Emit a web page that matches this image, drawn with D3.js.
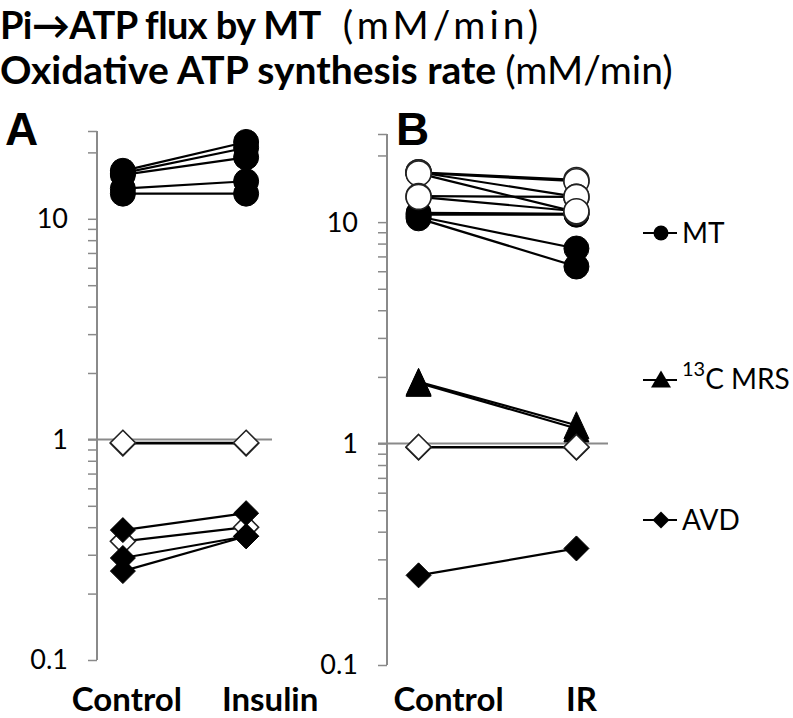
<!DOCTYPE html>
<html>
<head>
<meta charset="utf-8">
<script src="https://cdn.jsdelivr.net/npm/d3@7"></script>
<style>
  html, body { margin: 0; padding: 0; background: #fff; }
  svg { display: block; }
  text { font-family: Lato, "Open Sans", sans-serif; fill: #000; }
</style>
</head>
<body>
<svg id="chart" width="793" height="718"></svg>
<script>
// ---------------- DATA ----------------
const titleLine1Bold = "Pi\u2192ATP flux by MT";
const titleLine1Unit = "(mM/min)";
const titleLine2Bold = "Oxidative ATP synthesis rate";
const titleLine2Unit = "(mM/min)";

const categoriesA = ["Control", "Insulin"];
const categoriesB = ["Control", "IR"];

const yMajorTicks = [0.1, 1, 10];
const yMajorLabels = ["0.1", "1", "10"];
const yMinorTicks = [0.2, 0.3, 0.4, 0.5, 0.6, 0.7, 0.8, 0.9, 2, 3, 4, 5, 6, 7, 8, 9, 20, 25];
const yDomain = [0.1, 25];

// Panel A (Control -> Insulin)
const aMTFilled   = [[16.5, 22.3], [16.1, 21.0], [15.8, 19.0], [13.7, 14.8], [13.0, 13.0]];
const aRefOpen    = [[0.96, 0.96], [0.965, 0.965]];
const aAVDOpen    = [[0.345, 0.40]];
const aAVDFilled  = [[0.388, 0.463], [0.29, 0.364], [0.253, 0.364]];

// Panel B (Control -> IR)
const bMTFilled   = [[11.0, 10.9], [10.8, 10.8], [10.6, 7.6], [10.4, 6.3]];
const bMTOpen     = [[16.8, 15.5], [16.7, 15.3], [16.8, 13.0], [16.6, 11.1], [13.1, 13.0], [13.0, 11.2]];
const bMRS        = [[1.90, 1.21], [1.88, 1.17]];
const bRefOpen    = [[0.96, 0.96], [0.965, 0.965]];
const bAVDFilled  = [[0.254, 0.336]];

const legendItems = ["MT", "13C MRS", "AVD"];

// ---------------- DRAW ----------------
const svg = d3.select("#chart");
const AXIS = "#8a8a8a";

// Titles
const t1 = svg.append("text").attr("x", 0).attr("y", 39).style("font-size", "38px");
t1.append("tspan").style("font-weight", "bold").style("letter-spacing", "-0.6px").text(titleLine1Bold);
t1.append("tspan").attr("dx", 22).style("font-size", "39px").style("letter-spacing", "4px").text(titleLine1Unit);
const t2 = svg.append("text").attr("x", 0).attr("y", 84).style("font-size", "39px");
t2.append("tspan").style("font-weight", "bold").text(titleLine2Bold);
t2.append("tspan").attr("dx", 9).text(titleLine2Unit);

const diamond = s => `M0,${-s}L${s},0L0,${s}L${-s},0Z`;
const triangle = (w, h) => `M0,${-h/2}L${w/2},${h/2}L${-w/2},${h/2}Z`;

function drawPanel(cfg) {
  const g = svg.append("g");
  const x = d3.scalePoint().domain(cfg.cats).range([cfg.axisX, cfg.right]).padding(cfg.pad);
  const y = d3.scaleLog().domain(yDomain).range([cfg.bottom, cfg.top]);

  // panel letter
  g.append("text").attr("x", cfg.letterX).attr("y", 145)
    .style("font-family", "'Liberation Sans', Arial, sans-serif")
    .style("font-weight", "bold").style("font-size", "46px").text(cfg.letter);

  // vertical axis
  const axis = d3.axisLeft(y).tickValues(yMajorTicks.concat(yMinorTicks))
    .tickSize(9).tickFormat(() => "");
  const ax = g.append("g").attr("transform", `translate(${cfg.axisX},0)`).call(axis);
  ax.select(".domain").attr("stroke", AXIS).attr("stroke-width", 2).attr("d", `M0,${cfg.bottom}V${cfg.top}`);
  ax.selectAll(".tick line").attr("stroke", AXIS).attr("stroke-width", 1.5);

  // tick labels
  g.selectAll(".ylab").data(yMajorTicks).join("text")
    .attr("x", cfg.axisX - 29).attr("y", d => y(d)).attr("dy", "0.35em")
    .attr("text-anchor", "end").style("font-size", "27px")
    .text((d, i) => yMajorLabels[i]);

  // horizontal axis line at 1
  g.append("line").attr("x1", cfg.axisX - 9).attr("x2", cfg.right)
    .attr("y1", y(1)).attr("y2", y(1)).attr("stroke", AXIS).attr("stroke-width", 2);

  // category labels
  g.selectAll(".xlab").data(cfg.cats).join("text")
    .attr("x", (d, i) => x(d) + cfg.labelDx[i]).attr("y", 711)
    .attr("text-anchor", "middle").style("font-weight", "bold").style("font-size", "33px")
    .text(d => d);

  const line = d3.line().x((d, i) => x(cfg.cats[i])).y(d => y(d));
  const allSeries = cfg.series;
  // lines
  allSeries.forEach(s => {
    g.selectAll(null).data(s.data).join("path")
      .attr("d", d => line(d)).attr("fill", "none")
      .attr("stroke", "#000").attr("stroke-width", 2.2);
  });
  // markers
  allSeries.forEach(s => {
    s.data.forEach(pair => {
      pair.forEach((v, i) => {
        const cx = x(cfg.cats[i]), cy = y(v);
        let el;
        if (s.shape === "circle") {
          el = g.append("circle").attr("cx", cx).attr("cy", cy).attr("r", 12.5);
        } else if (s.shape === "diamond") {
          el = g.append("path").attr("d", diamond(12.5)).attr("transform", `translate(${cx},${cy})`);
        } else {
          el = g.append("path").attr("d", triangle(25, 27)).attr("transform", `translate(${cx},${cy})`);
        }
        if (s.open) el.attr("fill", "#fff").attr("stroke", "#222").attr("stroke-width", 1.6);
        else el.attr("fill", "#000").attr("stroke", "#000").attr("stroke-width", 1);
      });
    });
  });
}

drawPanel({
  letter: "A", letterX: 5, cats: categoriesA, axisX: 97, right: 272, pad: 0.21,
  top: 131, bottom: 660, labelDx: [4, 24],
  series: [
    { data: aMTFilled, shape: "circle", open: false },
    { data: aRefOpen, shape: "diamond", open: true },
    { data: aAVDOpen, shape: "diamond", open: true },
    { data: aAVDFilled, shape: "diamond", open: false }
  ]
});

drawPanel({
  letter: "B", letterX: 396, cats: categoriesB, axisX: 387, right: 608, pad: 0.2,
  top: 134, bottom: 665, labelDx: [30, 5],
  series: [
    { data: bMTFilled, shape: "circle", open: false },
    { data: bMTOpen, shape: "circle", open: true },
    { data: bMRS, shape: "triangle", open: false },
    { data: bRefOpen, shape: "diamond", open: true },
    { data: bAVDFilled, shape: "diamond", open: false }
  ]
});

// Legend
const legendY = [233, 380, 520];
const lg = svg.append("g");
legendItems.forEach((name, i) => {
  const yy = legendY[i];
  lg.append("line").attr("x1", 643).attr("x2", 677).attr("y1", yy).attr("y2", yy)
    .attr("stroke", "#000").attr("stroke-width", 2);
  if (i === 0) lg.append("circle").attr("cx", 661).attr("cy", yy).attr("r", 7.5).attr("fill", "#000");
  if (i === 1) lg.append("path").attr("d", triangle(20, 17)).attr("transform", `translate(661,${yy - 1})`).attr("fill", "#000");
  if (i === 2) lg.append("path").attr("d", diamond(8.5)).attr("transform", `translate(661,${yy})`).attr("fill", "#000");
  if (i === 1) {
    const t = lg.append("text").attr("x", 682).attr("y", yy + 9).style("font-size", "28px");
    t.append("tspan").attr("dy", -13).style("font-size", "20px").text(name.slice(0, 2));
    t.append("tspan").attr("dy", 13).text(name.slice(2));
  } else {
    lg.append("text").attr("x", 682).attr("y", yy).attr("dy", "0.35em").style("font-size", "28px").text(name);
  }
});
</script>
</body>
</html>
